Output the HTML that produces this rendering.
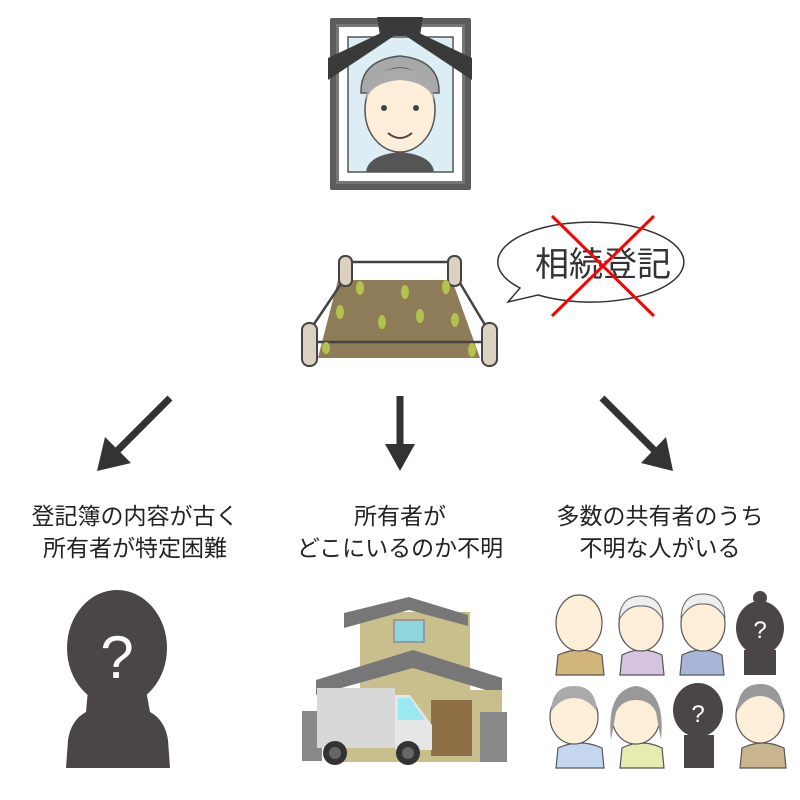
<!DOCTYPE html>
<html><head><meta charset="utf-8"><style>
body{margin:0;background:#fff;}
svg{display:block}
text{font-family:"Liberation Sans","Noto Sans CJK JP",sans-serif;}
</style></head><body>
<svg width="800" height="800" viewBox="0 0 800 800" xmlns="http://www.w3.org/2000/svg">
<!-- portrait -->
<rect x="330" y="18" width="141" height="172" fill="#5c5c5c" rx="2"/>
<rect x="336" y="24" width="129" height="160" fill="#777"/>
<rect x="339" y="27" width="123" height="154" fill="#fff"/>
<rect x="348" y="37" width="105" height="135" fill="#dcedf5" stroke="#555" stroke-width="1.5"/>
<path d="M361 93 Q360 60 400 56 Q440 60 439 93 Z" fill="#a8a8a8" stroke="#555" stroke-width="1.5"/>
<ellipse cx="400" cy="110" rx="35" ry="42" fill="#fdeeda" stroke="#555" stroke-width="1.5"/>
<path d="M366 100 Q368 70 400 68 Q432 70 434 100 Q428 82 400 80 Q372 82 366 100Z" fill="#aaa"/>
<path d="M366 172 Q368 155 400 152 Q432 155 434 172Z" fill="#555"/>
<circle cx="384" cy="108" r="3" fill="#444"/><circle cx="416" cy="108" r="3" fill="#444"/>
<path d="M388 133 Q400 143 412 133" stroke="#444" stroke-width="2" fill="none"/>
<path d="M328 80 L400 32 L472 80 L472 58 L400 24 L328 58Z" fill="#3a3a3a"/>
<path d="M377 17 L423 17 L420 36 L380 36Z" fill="#3a3a3a"/>
<!-- land -->
<polygon points="338,280 452,280 480,358 318,358" fill="#8d7c57"/>
<g stroke="#444" stroke-width="2.5" fill="none">
<line x1="345" y1="262" x2="455" y2="262"/><line x1="345" y1="278" x2="310" y2="330"/>
<line x1="457" y1="278" x2="488" y2="330"/><line x1="312" y1="342" x2="488" y2="342"/></g>
<g fill="#dcd0c0" stroke="#444" stroke-width="2">
<rect x="339" y="256" width="13" height="30" rx="6"/><rect x="448" y="256" width="13" height="30" rx="6"/>
<rect x="302" y="323" width="15" height="43" rx="7"/><rect x="482" y="323" width="15" height="43" rx="7"/></g>
<g fill="#b3c24a"><ellipse cx="360" cy="288" rx="4" ry="7"/><ellipse cx="405" cy="292" rx="4" ry="7"/><ellipse cx="446" cy="287" rx="4" ry="7"/><ellipse cx="382" cy="322" rx="4" ry="7"/><ellipse cx="420" cy="316" rx="4" ry="7"/><ellipse cx="455" cy="320" rx="4" ry="7"/><ellipse cx="340" cy="312" rx="4" ry="7"/><ellipse cx="472" cy="350" rx="4" ry="7"/><ellipse cx="326" cy="348" rx="4" ry="6"/></g>
<!-- bubble -->
<path d="M520 288 A93 40 0 1 1 538 295 L508 302 Z" fill="#fff" stroke="#333" stroke-width="1.5"/>
<text x="603" y="276" font-size="34" text-anchor="middle" fill="#333">相続登記</text>
<line x1="552" y1="216" x2="654" y2="316" stroke="#f00" stroke-width="3"/>
<line x1="654" y1="216" x2="552" y2="316" stroke="#f00" stroke-width="3"/>
<!-- arrows -->
<g stroke="#333" stroke-width="7"><line x1="170" y1="398" x2="115" y2="453"/><line x1="400" y1="396" x2="400" y2="448"/><line x1="602" y1="398" x2="656" y2="452"/></g>
<g fill="#333"><polygon points="97,471 105,437 131,463"/><polygon points="385,444 415,444 400,471"/><polygon points="673,471 641,463 666,437"/></g>
<!-- labels -->
<g font-size="23" fill="#222" text-anchor="middle">
<text x="135" y="524">登記簿の内容が古く</text><text x="135" y="556">所有者が特定困難</text>
<text x="400" y="524">所有者が</text><text x="400" y="556">どこにいるのか不明</text>
<text x="660" y="524">多数の共有者のうち</text><text x="660" y="556">不明な人がいる</text></g>
<!-- silhouette -->
<g fill="#4a4646"><ellipse cx="117" cy="648" rx="50" ry="58"/><path d="M88 690 L146 690 L150 712 Q165 720 168 740 L170 768 L66 768 L68 740 Q71 720 86 712Z"/></g>
<text x="117" y="678" font-size="60" fill="#fff" text-anchor="middle">?</text>
<!-- house -->
<rect x="360" y="612" width="110" height="150" fill="#c8bf8c"/>
<polygon points="344,613 409,597 468,615 468,626 409,610 344,628" fill="#777"/>
<rect x="394" y="620" width="30" height="22" fill="#8ed6de" stroke="#999" stroke-width="2"/>
<polygon points="316,680 413,650 502,678 502,695 413,668 316,695" fill="#777"/>
<rect x="330" y="690" width="172" height="72" fill="#c8bf8c"/>
<rect x="431" y="700" width="41" height="56" fill="#8d6e45"/>
<rect x="480" y="712" width="27" height="50" fill="#888"/>
<rect x="302" y="711" width="20" height="50" fill="#888"/>
<rect x="317" y="688" width="78" height="60" fill="#d8d8d8"/>
<path d="M395 695 L410 695 L432 725 L432 750 L395 750Z" fill="#e6e6e6"/>
<path d="M398 698 L410 698 L425 720 L398 720Z" fill="#9be8f0"/>
<circle cx="335" cy="753" r="12" fill="#333"/><circle cx="408" cy="753" r="12" fill="#333"/>
<circle cx="335" cy="753" r="6" fill="#666"/><circle cx="408" cy="753" r="6" fill="#666"/>
<!-- people -->
<g stroke="#555" stroke-width="1.2">
<path d="M556 675 L558 655 Q580 645 602 655 L604 675Z" fill="#d1b57a"/>
<path d="M620 675 L622 655 Q642 645 662 655 L664 675Z" fill="#d5c3e0"/>
<path d="M680 675 L682 655 Q702 645 722 655 L724 675Z" fill="#a6b5d8"/>
<path d="M556 768 L558 748 Q580 738 602 748 L604 768Z" fill="#c4d7ef"/>
<path d="M620 768 L622 748 Q642 738 662 748 L664 768Z" fill="#e8ebb0"/>
<path d="M740 768 L742 748 Q763 738 784 748 L786 768Z" fill="#c9b58e"/>
<ellipse cx="579" cy="623" rx="23" ry="28" fill="#fdeeda"/>
<ellipse cx="641" cy="625" rx="22" ry="26" fill="#fdeeda"/>
<ellipse cx="703" cy="624" rx="22" ry="27" fill="#fdeeda"/>
<ellipse cx="574" cy="717" rx="24" ry="27" fill="#fdeeda"/>
<ellipse cx="636" cy="717" rx="24" ry="27" fill="#fdeeda"/>
<ellipse cx="760" cy="716" rx="24" ry="27" fill="#fdeeda"/>
</g>
<path d="M619 620 Q620 596 641 596 Q662 596 663 620 Q655 605 641 606 Q627 605 619 620Z" fill="#eee" stroke="#666"/>
<path d="M681 618 Q682 594 703 594 Q724 594 725 618 Q716 603 703 604 Q690 603 681 618Z" fill="#eee" stroke="#666"/>
<path d="M551 712 Q552 686 574 686 Q596 686 597 712 Q588 698 574 698 Q560 698 551 712Z" fill="#aaa"/>
<path d="M611 740 Q606 690 636 686 Q666 690 661 740 L656 712 Q650 700 636 700 Q622 700 616 712Z" fill="#999"/>
<path d="M737 712 Q738 684 760 684 Q782 684 783 712 Q774 696 760 696 Q746 696 737 712Z" fill="#999"/>
<g fill="#4a4646"><ellipse cx="760" cy="628" rx="24" ry="27"/><circle cx="760" cy="598" r="7"/><rect x="744" y="650" width="32" height="25"/>
<ellipse cx="698" cy="710" rx="25" ry="27"/><rect x="684" y="735" width="30" height="33"/></g>
<g font-size="24" fill="#fff" text-anchor="middle"><text x="760" y="638">?</text><text x="698" y="722">?</text></g>
</svg>
</body></html>
